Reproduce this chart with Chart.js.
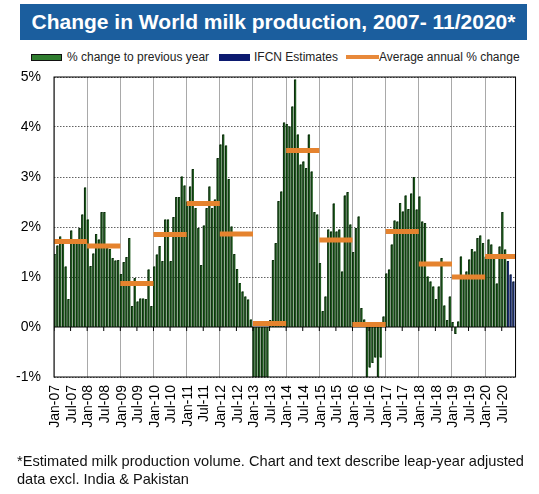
<!DOCTYPE html>
<html>
<head>
<meta charset="utf-8">
<script src="https://cdn.jsdelivr.net/npm/chart.js@4.4.1/dist/chart.umd.min.js"></script>
<style>
body{margin:0;width:539px;height:494px;background:#fff;font-family:"Liberation Sans",Arial,sans-serif;position:relative;overflow:hidden}
#title{position:absolute;left:20px;top:4px;width:507px;height:36px;background:#1b5e9e;color:#fff;font-weight:bold;font-size:21px;line-height:36px;text-align:center;white-space:nowrap}
.item{position:absolute;top:49px;font-size:12px;line-height:16px;color:#222;white-space:nowrap}
.box{position:absolute;top:54px;width:29px;height:5px;border:1px solid #111}
.oline{position:absolute;top:55px;width:33px;height:4px;background:#e8893a}
#foot{position:absolute;left:17px;top:452px;font-size:14.6px;line-height:18px;color:#111;white-space:nowrap}
canvas{position:absolute;left:0;top:0}
</style>
</head>
<body>
<div id="title">Change in World milk production, 2007- 11/2020*</div>
<div class="box" style="left:31px;background:#2f7d2f"></div>
<div class="item" style="left:67px">% change to previous year</div>
<div class="box" style="left:219px;background:#0c1a70;border-color:#0c1a70"></div>
<div class="item" style="left:254px">IFCN Estimates</div>
<div class="oline" style="left:346px"></div>
<div class="item" style="left:379px">Average annual % change</div>
<canvas id="c" width="539" height="494"></canvas>
<div id="foot">*Estimated milk production volume. Chart and text describe leap-year adjusted<br>data excl. India &amp; Pakistan</div>
<script>
// data
var years = [2007,2008,2009,2010,2011,2012,2013,2014,2015,2016,2017,2018,2019,2020]
var monthNames = ['Jan','Feb','Mar','Apr','May','Jun','Jul','Aug','Sep','Oct','Nov','Dec']
var lastMonth2020 = 11

var monthlyChange = [
  1.45, 1.62, 1.80, 1.68, 1.20, 0.55, 1.92, 1.74, 1.74, 1.97, 2.24, 2.78,
  2.14, 1.21, 1.46, 1.85, 1.74, 2.29, 2.29, 1.57, 1.55, 1.37, 1.32, 1.33,
  1.05, 1.29, 1.39, 1.77, 0.41, 0.97, 0.50, 0.56, 0.56, 0.55, 1.14, 0.41,
  1.20, 1.44, 1.61, 1.31, 2.14, 2.14, 1.31, 2.19, 2.59, 2.59, 3.00, 2.82,
  2.50, 2.80, 3.15, 2.37, 1.97, 1.23, 2.02, 2.37, 2.80, 2.37, 2.54, 3.37,
  3.64, 3.84, 3.62, 2.95, 2.00, 1.45, 1.15, 0.87, 0.70, 0.60, 0.54, 0.14,
  -1.30, -1.80, -2.20, -2.40, -2.10, -1.60, 0.13, 1.33, 1.67, 2.51, 2.70, 4.08,
  4.05, 4.00, 4.40, 4.94, 3.84, 3.24, 3.30, 3.17, 3.84, 3.10, 2.29, 2.24,
  1.27, 0.31, 0.60, 1.94, 1.90, 2.46, 1.90, 1.94, 1.10, 2.62, 2.69, 2.04,
  1.49, 1.97, 2.20, 0.37, 0.14, -1.50, -0.80, -0.71, -0.60, -1.40, -0.60, 0.20,
  1.06, 1.14, 1.64, 2.12, 2.10, 2.47, 2.30, 2.62, 2.35, 2.66, 2.99, 2.34,
  2.60, 2.10, 2.07, 1.00, 0.90, 0.80, 0.55, 0.80, 1.37, 0.42, 0.13, 0.60,
  0.09, -0.13, 0.10, 1.40, 1.00, 1.10, 1.34, 1.55, 1.50, 1.77, 1.82, 1.67,
  1.40, 1.74, 1.64, 1.37, 0.86, 1.60, 2.29, 1.54, 1.31, 1.04, 0.90
]
var annualAverage = [1.71, 1.62, 0.87, 1.85, 2.47, 1.86, 0.07, 3.53, 1.74, 0.05, 1.91, 1.26, 1.00, 1.41]
var estimateMonths = 3   // last bars are IFCN estimates
var yTicks = [-1, 0, 1, 2, 3, 4, 5]

var FONT = '"Liberation Sans", Arial, sans-serif'

// month categories Jan-07 ... Nov-20
var months = []
for (var i = 0; i < years.length; i++){
    var n = (years[i] == 2020) ? lastMonth2020 : 12
    for (var m = 0; m < n; m++){
        months.push(monthNames[m] + '-' + String(years[i]).slice(2))
    }
}

var barColors = monthlyChange.map(function(v, i){
    return i >= monthlyChange.length - estimateMonths ? '#1c2f78' : '#1f5c1f'
})

// one flat segment per year on a linear helper axis
var avgPoints = []
for (var k = 0; k < annualAverage.length; k++){
    var start = k * 12 - 0.5
    var end = Math.min(k * 12 + 11.5, months.length - 0.5)
    avgPoints.push({x: start, y: annualAverage[k]})
    avgPoints.push({x: end, y: annualAverage[k]})
    avgPoints.push({x: end, y: null})
}

var framePlugin = {
    id: 'frame',
    afterDatasetDraw: function(chart, args){
        if (args.index !== 0) return
        var ctx = chart.ctx, a = chart.chartArea
        var x = chart.scales.x, y = chart.scales.y
        var y0 = y.getPixelForValue(0)
        ctx.save()
        // dark outline on the side of every bar
        ctx.beginPath()
        ctx.rect(a.left, a.top, a.right - a.left, a.bottom - a.top)
        ctx.clip()
        ctx.strokeStyle = 'rgba(5,15,5,0.85)'
        ctx.lineWidth = 0.8
        ctx.beginPath()
        args.meta.data.forEach(function(bar){
            var left = bar.x - bar.width / 2
            ctx.moveTo(left, bar.base)
            ctx.lineTo(left, bar.y)
            ctx.lineTo(left + bar.width, bar.y)
        })
        ctx.stroke()
        ctx.strokeStyle = '#000'
        ctx.lineWidth = 1
        ctx.beginPath()
        ctx.moveTo(a.left, y0)
        ctx.lineTo(a.right, y0)
        for (var i = 0; i <= months.length; i += 6){
            var px = x.getPixelForValue(i - 0.5)
            ctx.moveTo(px, y0)
            ctx.lineTo(px, y0 + 4)
        }
        ctx.stroke()
        ctx.restore()
    },
    afterDraw: function(chart){
        var ctx = chart.ctx, a = chart.chartArea
        ctx.save()
        ctx.strokeStyle = '#000'
        ctx.lineWidth = 1
        ctx.strokeRect(a.left, a.top, a.right - a.left, a.bottom - a.top)
        ctx.restore()
    }
}

var myChart = new Chart(document.getElementById('c'), {
    data: {
        labels: months,
        datasets: [{
            type: 'bar',
            label: '% change to previous year',
            data: monthlyChange,
            backgroundColor: barColors,
            borderWidth: 0,
            inflateAmount: 0.4,
            barPercentage: 1,
            categoryPercentage: 1,
            xAxisID: 'x',
            yAxisID: 'y',
            order: 2
        }, {
            type: 'line',
            label: 'Average annual % change',
            data: avgPoints,
            xAxisID: 'xl',
            yAxisID: 'y',
            borderColor: '#e5832e',
            borderWidth: 5,
            borderCapStyle: 'butt',
            pointRadius: 0,
            spanGaps: false,
            order: 1
        }]
    },
    options: {
        responsive: false,
        animation: false,
        layout: {
            padding: {top: 77, right: 12, bottom: 55, left: 0}
        },
        plugins: {
            legend: {display: false},
            tooltip: {enabled: false}
        },
        scales: {
            x: {
                type: 'category',
                offset: true,
                grid: {
                    offset: true,
                    drawTicks: false,
                    lineWidth: 1,
                    color: function(c){ return c.index % 12 === 0 ? '#a9a9a9' : 'rgba(0,0,0,0)' }
                },
                border: {display: false},
                ticks: {
                    autoSkip: false,
                    maxRotation: 90,
                    minRotation: 90,
                    padding: 8,
                    color: '#000',
                    font: {family: FONT, size: 14},
                    callback: function(v, i){ return i % 6 === 0 ? months[i] : '' }
                },
                afterFit: function(s){ s.height = 62 }
            },
            xl: {
                type: 'linear',
                display: false,
                min: -0.5,
                max: months.length - 0.5
            },
            y: {
                min: yTicks[0],
                max: yTicks[yTicks.length - 1],
                afterBuildTicks: function(s){ s.ticks = yTicks.map(function(v){ return {value: v} }) },
                grid: {
                    drawTicks: false,
                    lineWidth: 0.8,
                    color: function(c){ return c.tick && c.tick.value === 0 ? 'rgba(0,0,0,0)' : '#3a3a3a' }
                },
                border: {display: false, dash: [1.5, 1.5]},
                ticks: {
                    padding: 13,
                    color: '#000',
                    font: {family: FONT, size: 14},
                    callback: function(v){ return v + '%' }
                },
                afterFit: function(s){ s.width = 54 }
            }
        }
    },
    plugins: [framePlugin]
})
</script>
</body>
</html>
